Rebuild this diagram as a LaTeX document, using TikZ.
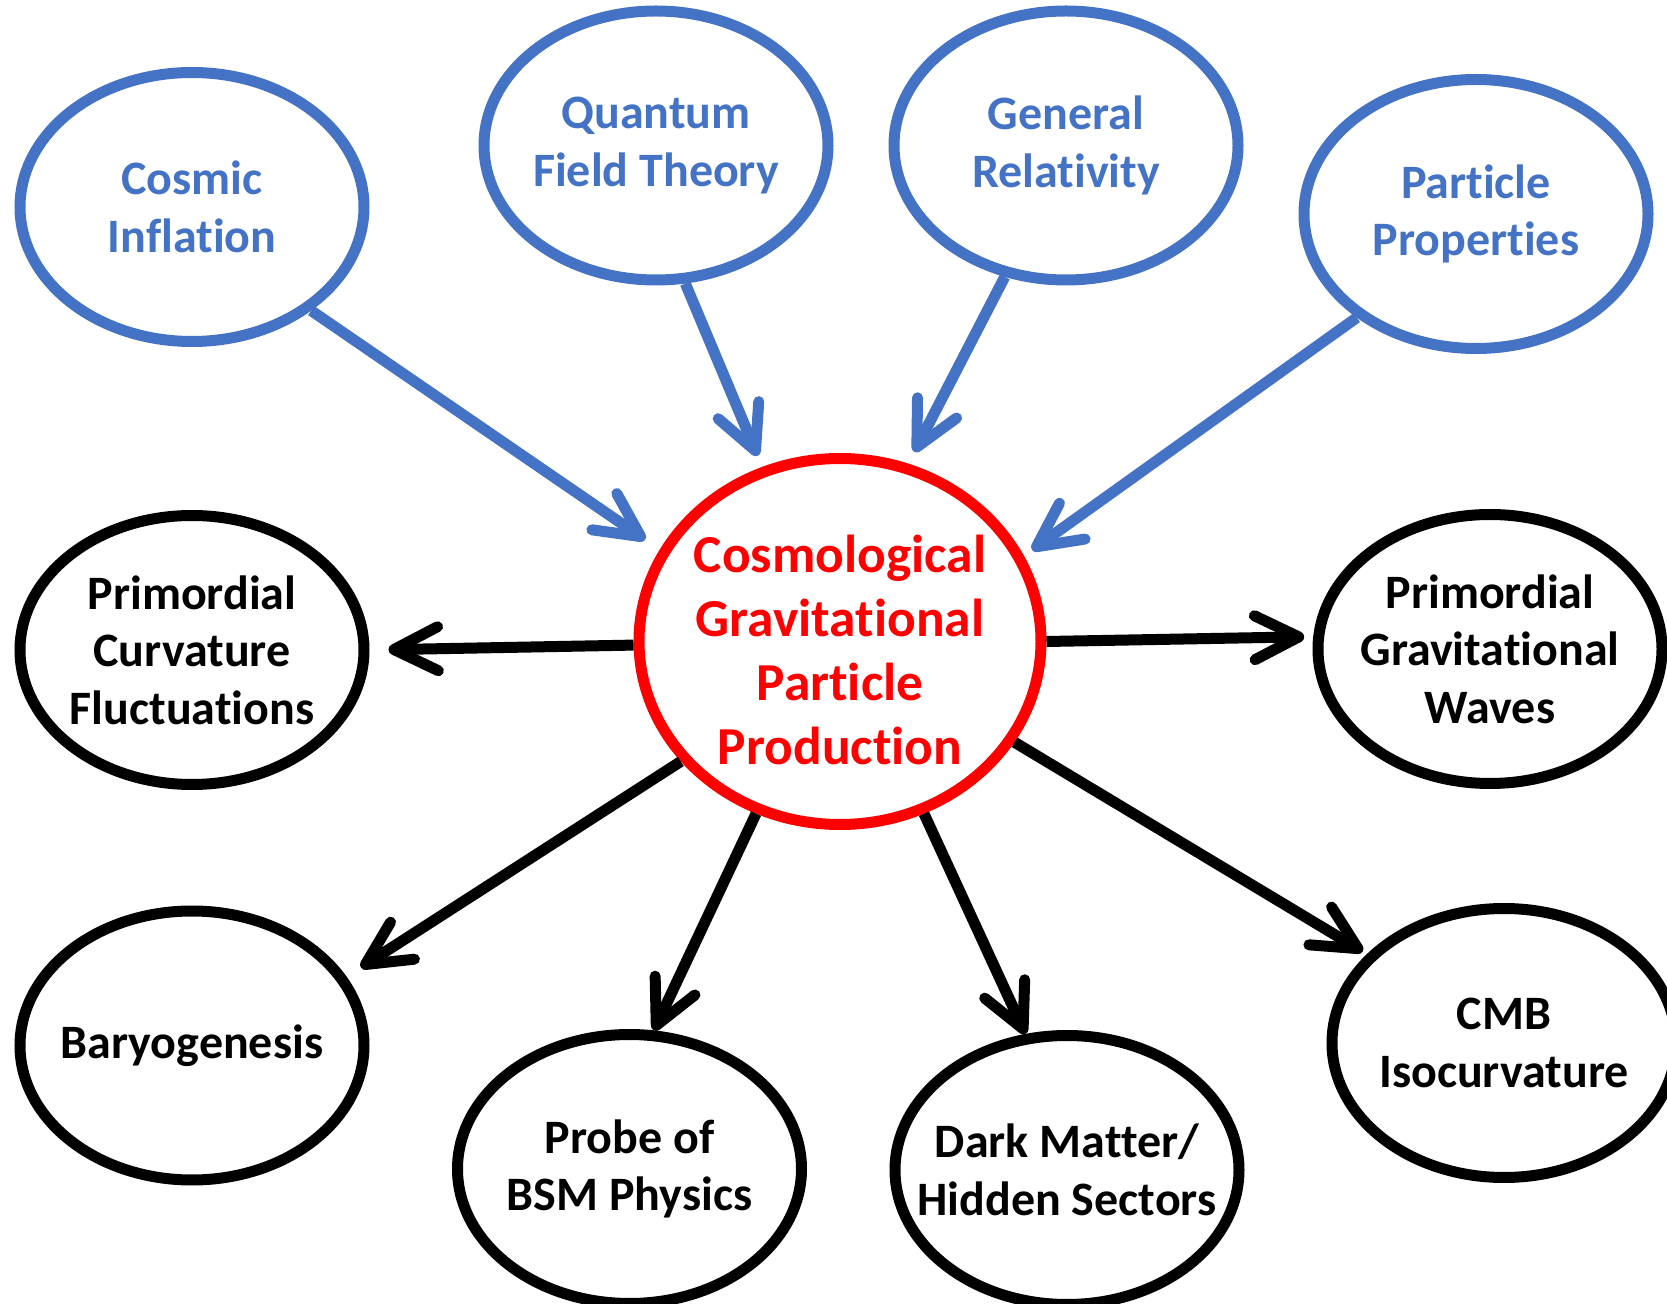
\documentclass[tikz,border=0pt]{standalone}
\usepackage{fontspec}
\setmainfont{Carlito}[Ligatures={NoCommon,NoRequired,NoContextual,NoRare}, Contextuals=NoAlternate]
\usetikzlibrary{arrows.meta,shapes.geometric}
\definecolor{cblue}{HTML}{4472C4}
\definecolor{cred}{HTML}{FF0000}
\begin{document}
\begin{tikzpicture}[x=0.5pt,y=-0.5pt,
  oval/.style={ellipse, draw, line width=5.5pt, minimum width=172pt, minimum height=134.5pt, inner sep=-40pt, align=center, font=\bfseries\fontsize{24}{28.8}\selectfont},
  blueoval/.style={oval, draw=cblue, text=cblue},
  blackoval/.style={oval, draw=black, text=black},
  redoval/.style={ellipse, draw=cred, line width=5.5pt, minimum width=201pt, minimum height=183pt, inner sep=0pt},
  redtext/.style={text=cred, inner sep=0pt, align=center, font=\bfseries\fontsize{26.7}{32}\selectfont},
  conn/.style={line width=5.5pt, -{Straight Barb[length=22pt, width=22pt, round]}},
  blueconn/.style={conn, draw=cblue},
  blackconn/.style={conn, draw=black}]
\useasboundingbox (0,0) rectangle (1667,1304);
\node[blueoval] (ci) at (192,207) {Cosmic\\Inflation};
\node[blueoval] (qft) at (656,145.5) {Quantum\\Field Theory};
\node[blueoval] (gr) at (1066,145.5) {General\\Relativity};
\node[blueoval] (pp) at (1476,214) {Particle\\Properties};
\node[redoval] (cg) at (840,641.5) {};
\node[redtext] (cgt) at ([yshift=-4.25pt]cg.center) {Cosmological\\Gravitational\\Particle\\Production};
\node[blackoval] (pcf) at (192,650) {Primordial\\Curvature\\Fluctuations};
\node[blackoval] (pgw) at (1490,649) {Primordial\\Gravitational\\Waves};
\node[blackoval] (bar) at (192,1045.5) {Baryogenesis};
\node[blackoval] (bsm) at (629.5,1169) {Probe of\\BSM Physics};
\node[blackoval] (dm) at (1067,1170) {Dark Matter/\\Hidden Sectors};
\node[blackoval] (cmb) at (1504,1043) {CMB\\Isocurvature};
\draw[blueconn, shorten >=8.8pt] (ci.-41.9) -- (cg.153.8);
\draw[blueconn, shorten >=6pt] (qft.-78.4) -- (cg.114.4);
\draw[blueconn, shorten >=6.6pt] (gr.-115.2) -- (cg.69.7);
\draw[blueconn, shorten >=5pt] (pp.-139.1) -- (cg.25.4);
\draw[blackconn, shorten >=9.5pt] (cg.181.2) -- (pcf.0.6);
\draw[blackconn, shorten >=4.5pt] (cg.-0.4) -- (pgw.176.9);
\draw[blackconn, shorten >=8.5pt] (cg.-143.5) -- (bar.24.8);
\draw[blackconn] (cg.-116.4) -- (bsm.80.3);
\draw[blackconn] (cg.-64.9) -- (dm.107.1);
\draw[blackconn, shorten >=2.5pt] (cg.-30.4) -- (cmb.147.4);
\end{tikzpicture}
\end{document}
